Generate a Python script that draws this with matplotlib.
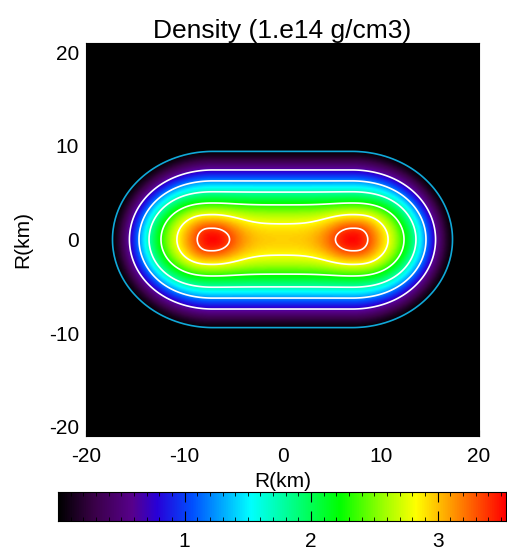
import numpy as np
import matplotlib
matplotlib.use("Agg")
import matplotlib.pyplot as plt
from matplotlib.colors import LinearSegmentedColormap

plt.rcParams['font.family'] = ['Liberation Sans', 'DejaVu Sans']
plt.rcParams['axes.unicode_minus'] = False

# star model (km, 1.e14 g/cm3)
star_x = [-7.1, 7.1]
rho_max = 3.52
radius_x = 10.6      # outer edge along the axis, measured from star centre
radius_y = 9.75      # outer edge across the axis
bridge = 0.84        # density between the stars, fraction of rho_max
core_sx, core_sy = 2.8, 2.9

# contour levels as fractions of the maximum
white_levels = [0.2, 0.35, 0.5, 0.65, 0.8, 0.95]
cyan_levels = [0.01]

cbar_ticks = [1, 2, 3]
cbar_max = 3.54
axis_ticks = [-20, -10, 0, 10, 20]

# colour table (black-purple-blue-cyan-green-yellow-red)
ct_pos = [0.0, 0.08, 0.165, 0.22, 0.30, 0.43, 0.63, 0.73, 0.80, 0.875, 1.0]
ct_col = ['#000000', '#3a0048', '#58008c', '#2800d8', '#0050ff', '#00ffff',
          '#00ff00', '#a0ff00', '#ffff00', '#ffa000', '#ff0000']
cmap = LinearSegmentedColormap.from_list('rainbow13', list(zip(ct_pos, ct_col)))

# density field
x = np.linspace(-20, 20, 301)
y = np.linspace(-21, 21, 301)
X, Y = np.meshgrid(x, y)
a = star_x[1]
dx = np.clip(np.abs(X) - a, 0, None)
w = dx**2 / (dx**2 + Y**2 + 1e-9)
r = np.sqrt((dx / radius_x)**2 + (Y / radius_y)**2)
m = 2 + w
n = 1.65 + 0.35 * w
Q = np.clip(1 - r**m, 0, None)**n
M = bridge + (1 - bridge) * np.exp(-((np.abs(X) - a)**2 / core_sx**2 + Y**2 / core_sy**2))
rho = rho_max * M * Q

fig = plt.figure(figsize=(5.07, 5.5), dpi=100)
ax = fig.add_axes([86/507, 1 - 436/550, 393/507, 393/550])
ax.imshow(rho, origin='lower', extent=[-20, 20, -21, 21], cmap=cmap,
          vmin=0, vmax=cbar_max, aspect='auto', interpolation='bilinear')
ax.contour(X, Y, rho, levels=[f * rho_max for f in white_levels],
           colors='white', linewidths=1.2)
ax.contour(X, Y, rho, levels=[f * rho_max for f in cyan_levels],
           colors='#10a8d8', linewidths=1.2)
ax.set_xlim(-20, 20)
ax.set_ylim(-21, 21)
ax.set_xticks(axis_ticks)
ax.set_yticks(axis_ticks)
ax.tick_params(direction='in', length=4, labelsize=15)
ax.tick_params(axis='x', pad=8)
ax.tick_params(axis='y', pad=5)
ax.set_title('Density (1.e14 g/cm3)', fontsize=19, pad=3)
ax.set_xlabel('R(km)', fontsize=15, labelpad=4)
ax.set_ylabel('R(km)', fontsize=15, labelpad=12)

cax = fig.add_axes([58/507, 1 - 521/550, 448/507, 29/550])
grad = np.linspace(0, cbar_max, 512)[None, :]
cax.imshow(grad, extent=[0, cbar_max, 0, 1], cmap=cmap, vmin=0, vmax=cbar_max,
           aspect='auto')
cax.set_xlim(0, cbar_max)
cax.set_yticks([])
cax.set_xticks(cbar_ticks)
cax.set_xticks(np.arange(0.1, cbar_max, 0.1), minor=True)
cax.tick_params(axis='x', which='both', direction='in', top=True, labelsize=15, pad=8)
cax.tick_params(axis='x', which='major', length=7)
cax.tick_params(axis='x', which='minor', length=3)

fig.savefig('out.png', dpi=100)
